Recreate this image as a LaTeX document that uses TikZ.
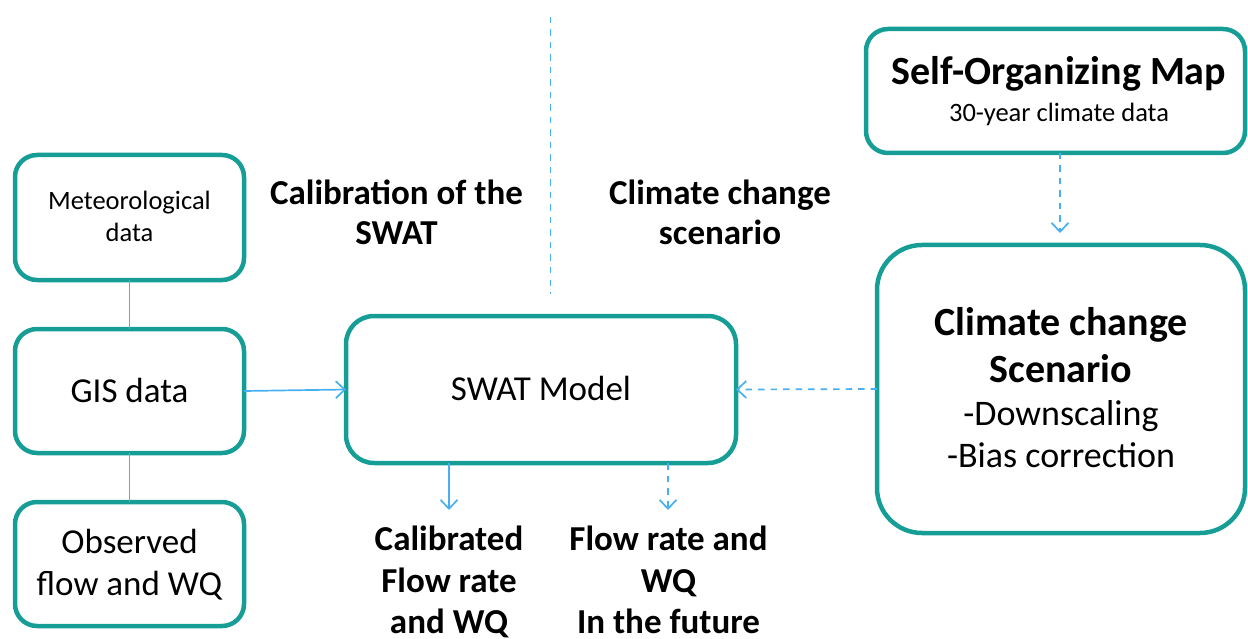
\documentclass[tikz,border=0pt]{standalone}
\usepackage{fontspec}
\setmainfont{Carlito}
\usetikzlibrary{arrows.meta}
\definecolor{tealc}{RGB}{22,158,150}
\definecolor{arrc}{RGB}{72,176,240}
\begin{document}
\begin{tikzpicture}[x=1pt,y=-1pt,
  box/.style={draw=tealc,line width=4.5pt,rounded corners=22pt,inner sep=0pt,outer sep=0pt},
  conn/.style={draw=arrc,line width=1.7pt},
  arr/.style={conn,-{Straight Barb[length=9pt,width=17pt,line width=1.7pt]}},
  dsh/.style={dash pattern=on 6.5pt off 6pt},
  txt/.style={anchor=base,inner sep=0pt,text=black},
  s25/.style={font=\fontsize{26.5}{30}\selectfont},
  s35/.style={font=\fontsize{35}{42}\selectfont},
  b35/.style={font=\bfseries\fontsize{35}{42}\selectfont},
  b40/.style={font=\bfseries\fontsize{40}{46}\selectfont},
  s36/.style={font=\fontsize{36}{42}\selectfont}]
\useasboundingbox (0,0) rectangle (1248,639);

% boxes
\node[box,minimum width=229pt,minimum height=125pt] (met) at (129.5,217.5) {};
\node[box,minimum width=229pt,minimum height=124pt] (gis) at (129.5,391) {};
\node[box,minimum width=229pt,minimum height=124pt] (obs) at (129.5,564) {};
\node[box,minimum width=390pt,minimum height=147pt,rounded corners=28pt] (swat) at (541,389.5) {};
\node[box,minimum width=379pt,minimum height=124pt] (som) at (1055.5,91) {};
\node[box,minimum width=368pt,minimum height=288pt,rounded corners=45pt] (cc) at (1061,389) {};

% texts in boxes
\node[txt,s25] (met1) at (129.5,210) {Meteorological};
\node[txt,s25] (met2) at (129.5,242) {data};
\node[txt,s35] (gis1) at (129.5,402) {GIS data};
\node[txt,s35] (obs1) at (129.5,553) {Observed};
\node[txt,s35] (obs2) at (129.5,595) {flow and WQ};
\node[txt,s35] (swat1) at (541,400) {SWAT Model};
\node[txt,b40] (som1) at (1059,85) {Self-Organizing Map};
\node[txt,s25] (som2) at (1059,122) {30-year climate data};
\node[txt,b40] (cc1) at (1061,335) {Climate change};
\node[txt,b40] (cc2) at (1061,382) {Scenario};
\node[txt,s36] (cc3) at (1061,425) {-Downscaling};
\node[txt,s36] (cc4) at (1061,467) {-Bias correction};

% free texts
\node[txt,b35] (cal1) at (396.5,205) {Calibration of the};
\node[txt,b35] (cal2) at (396.5,245) {SWAT};
\node[txt,b35] (ccs1) at (720,205) {Climate change};
\node[txt,b35] (ccs2) at (720,245) {scenario};
\node[txt,b35] (out1) at (449,550) {Calibrated};
\node[txt,b35] (out2) at (449,592) {Flow rate};
\node[txt,b35] (out3) at (449,633) {and WQ};
\node[txt,b35] (fut1) at (668.5,550) {Flow rate and};
\node[txt,b35] (fut2) at (668.5,592) {WQ};
\node[txt,b35] (fut3) at (668.5,633) {In the future};

% coordinates
\coordinate (d1) at (550.5,17);
\coordinate (d2) at (550.5,294);
\coordinate (c1) at (449,510);
\coordinate (c2) at (668,510);
\coordinate (c3) at (1060,233);

% connectors
\draw[conn] (met.south) -- (gis.north);
\draw[conn] (gis.south) -- (obs.north);
\draw[arr] (gis.east) -- (swat.west);
\draw[arr] (swat.south -| c1) -- (c1);
\draw[arr,dsh] (swat.south -| c2) -- (c2);
\draw[arr,dsh] (cc.west) -- (swat.east);
\draw[arr,dsh] (som.south -| c3) -- (c3);
\draw[conn,dsh] (d1) -- (d2);
\end{tikzpicture}
\end{document}
